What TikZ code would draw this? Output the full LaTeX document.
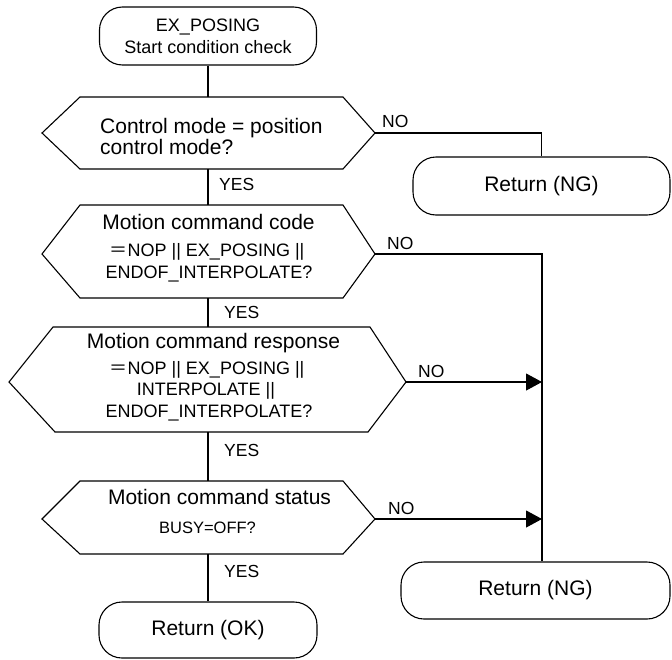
\documentclass[tikz,border=0pt]{standalone}
\usepackage{fontspec}
\setmainfont{Liberation Sans}
\newfontfamily\cjkfont{Noto Sans CJK JP}
\usetikzlibrary{arrows.meta,calc}
\newcommand\fsz[1]{\fontsize{#1}{#1}\selectfont}
\newcommand\feq{{\cjkfont ＝}}
\begin{document}
\begin{tikzpicture}[x=1pt,y=-1pt,
  outline/.style={draw,line width=1.1pt},
  term/.style={outline,rounded corners=23pt,inner sep=0pt},
  txt/.style={anchor=base,inner sep=0pt,font=\fsz{21}},
  sub/.style={anchor=base,inner sep=0pt,font=\fsz{18}},
  lbl/.style={anchor=base west,inner sep=0pt,font=\fsz{17.5}},
  conn/.style={line width=1.1pt},
  arr/.style={conn,-{Triangle[length=16pt,width=17pt]}}]
\useasboundingbox (0,0) rectangle (672,659);

% start terminal
\node[term,minimum width=217pt,minimum height=58pt,align=center,
      font=\fontsize{18}{22}\selectfont] (start) at (208,36)
      {EX\_POSING\\Start condition check};

% decision 1
\coordinate (d1L) at (42,133);  \coordinate (d1R) at (375,133);
\coordinate (d1T) at (208,97);  \coordinate (d1B) at (208,169);
\draw[outline] (d1L) -- (80,97) -- (343,97) -- (d1R) -- (343,169) -- (80,169) -- cycle;
\node[txt,anchor=base west] (d1a) at (100,133) {Control mode = position};
\node[txt,anchor=base west] (d1b) at (100,154) {control mode?};

% return NG 1
\node[term,minimum width=257pt,minimum height=58pt,font=\fsz{21}] (ng1) at (541.5,186) {Return (NG)};

% decision 2
\coordinate (d2L) at (42,254);  \coordinate (d2R) at (375,254);
\coordinate (d2T) at (208,205); \coordinate (d2B) at (208,298);
\draw[outline] (d2L) -- (80,205) -- (343,205) -- (d2R) -- (343,298) -- (80,298) -- cycle;
\node[txt] (d2a) at (208.5,229) {Motion command code};
\node[sub] (d2b) at (207,256) {\feq NOP || EX\_POSING ||};
\node[sub] (d2c) at (209,278) {ENDOF\_INTERPOLATE?};

% decision 3
\coordinate (d3L) at (9,382);   \coordinate (d3R) at (406,382);
\coordinate (d3T) at (208,327); \coordinate (d3B) at (208,432);
\draw[outline] (d3L) -- (53,327) -- (370,327) -- (d3R) -- (368,432) -- (55,432) -- cycle;
\node[txt] (d3a) at (213.5,348) {Motion command response};
\node[sub] (d3b) at (207,374) {\feq NOP || EX\_POSING ||};
\node[sub] (d3c) at (206,395) {INTERPOLATE ||};
\node[sub] (d3d) at (209,417) {ENDOF\_INTERPOLATE?};

% decision 4
\coordinate (d4L) at (42,519);  \coordinate (d4R) at (375,519);
\coordinate (d4T) at (208,481); \coordinate (d4B) at (208,554);
\draw[outline] (d4L) -- (80,481) -- (343,481) -- (d4R) -- (343,554) -- (80,554) -- cycle;
\node[txt] (d4a) at (219.5,504) {Motion command status};
\node[anchor=base,inner sep=0pt,font=\fsz{16.5}] (d4b) at (207.5,533) {BUSY=OFF?};

% return OK and NG 2
\node[term,minimum width=218pt,minimum height=56pt,font=\fsz{21}] (ok) at (208,630) {Return (OK)};
\node[term,minimum width=269pt,minimum height=57pt,font=\fsz{21}] (ng2) at (535.5,590.5) {Return (NG)};

% junction of the NO line
\coordinate (j1) at (542,254);

% connectors
\draw[conn] (start.south) -- (d1T);
\draw[conn] (d1B) -- (d2T);
\draw[conn] (d2B) -- (d3T);
\draw[conn] (d3B) -- (d4T);
\draw[conn] (d4B) -- (ok.north);
\draw[conn] (d1R) -| (ng1.north);
\draw[conn] (d2R) -- (j1) -- (j1 |- ng2.north);
\draw[arr] (d3R) -- (d3R -| j1);
\draw[arr] (d4R) -- (d4R -| j1);

% labels
\node[lbl] (no1) at (382,127) {NO};
\node[lbl] (no2) at (387,249) {NO};
\node[lbl] (no3) at (418,377) {NO};
\node[lbl] (no4) at (388,514) {NO};
\node[lbl] (y1) at (219,190) {YES};
\node[lbl] (y2) at (224,318) {YES};
\node[lbl] (y3) at (224,456) {YES};
\node[lbl] (y4) at (224,577) {YES};
\end{tikzpicture}
\end{document}
